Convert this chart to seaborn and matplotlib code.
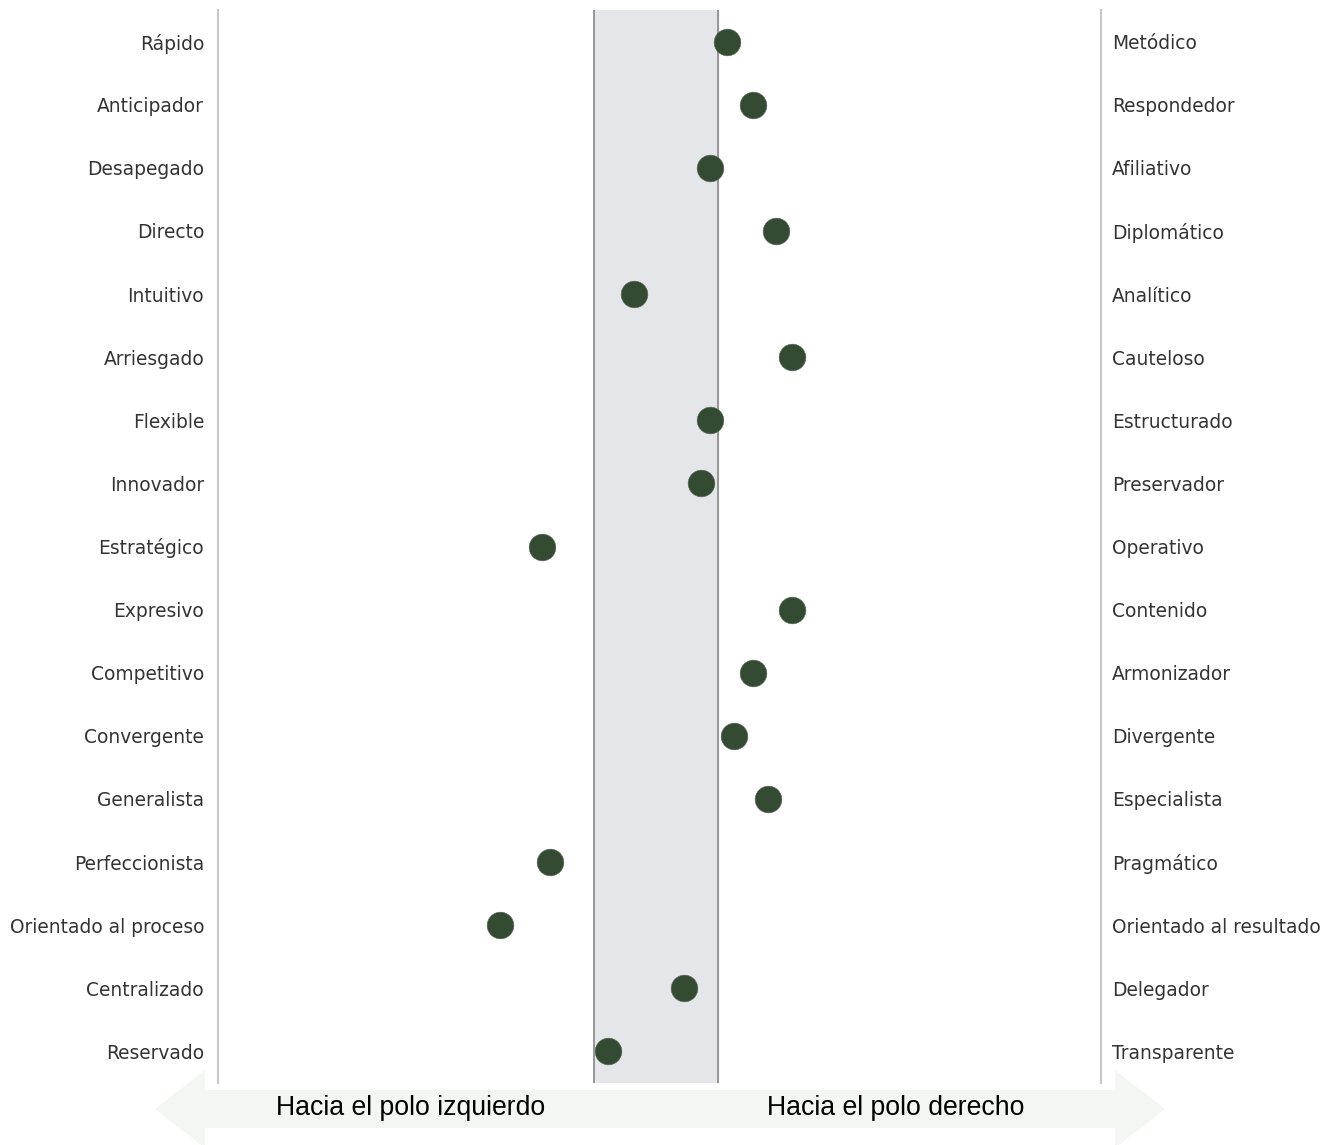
import pandas as pd
import numpy as np
import matplotlib
matplotlib.use("Agg")
import matplotlib.pyplot as plt
import seaborn as sns
from matplotlib.patches import Polygon

sns.set_theme(style="white")
plt.rcParams['font.family'] = ['DejaVu Sans']

# polos izquierdo / derecho y posicion de cada persona (escala 0-100)
polo_izq = ["Rápido", "Anticipador", "Desapegado", "Directo", "Intuitivo", "Arriesgado",
            "Flexible", "Innovador", "Estratégico", "Expresivo", "Competitivo", "Convergente",
            "Generalista", "Perfeccionista", "Orientado al proceso", "Centralizado", "Reservado"]
polo_der = ["Metódico", "Respondedor", "Afiliativo", "Diplomático", "Analítico", "Cauteloso",
            "Estructurado", "Preservador", "Operativo", "Contenido", "Armonizador", "Divergente",
            "Especialista", "Pragmático", "Orientado al resultado", "Delegador", "Transparente"]
puntaje = [57.6, 60.6, 55.7, 63.2, 47.1, 65.0, 55.7, 54.7, 36.7, 65.0,
           60.6, 58.4, 62.3, 37.6, 31.9, 52.8, 44.2]
banda = [42.6, 56.6]   # zona central sombreada
flechas = ["Hacia el polo izquierdo", "Hacia el polo derecho"]

df = pd.DataFrame({"izq": polo_izq, "der": polo_der, "valor": puntaje})
df["fila"] = np.arange(len(df))

W, H = 1337, 1145
fig = plt.figure(figsize=(W / 100, H / 100), dpi=100)
ax = fig.add_axes([218 / W, 1 - 1083 / H, (1101 - 218) / W, (1083 - 10) / H])

ax.axvspan(banda[0], banda[1], color="#e5e6ea", zorder=0)
for b in banda:
    ax.axvline(b, color="#888888", lw=1.2, zorder=1)

sns.scatterplot(data=df, x="valor", y="fila", ax=ax, s=370, color="#344a33",
                edgecolor="#5a6b59", linewidth=0.4, zorder=3, legend=False)

ax.set_xlim(0, 100)
ax.set_ylim(len(df) - 0.5, -0.5)
ax.set_xlabel("")
ax.set_ylabel("")
ax.set_xticks([])
ax.set_yticks(df["fila"])
ax.set_yticklabels(df["izq"], fontsize=13.4, color="#333333")
ax.tick_params(axis="y", length=0, pad=10)
for s in ["top", "bottom"]:
    ax.spines[s].set_visible(False)
for s in ["left", "right"]:
    ax.spines[s].set_color("#c8c8c8")
    ax.spines[s].set_linewidth(1.5)

ax2 = ax.twinx()
ax2.set_ylim(ax.get_ylim())
ax2.set_yticks(df["fila"])
ax2.set_yticklabels(df["der"], fontsize=13.4, color="#333333")
ax2.tick_params(axis="y", length=0, pad=8)
for s in ax2.spines.values():
    s.set_visible(False)
ax2.grid(False)

# flecha doble inferior
pts = [(155, 1109), (205, 1070), (205, 1090), (1115, 1090), (1115, 1070), (1165, 1109),
       (1115, 1148), (1115, 1128), (205, 1128), (205, 1148)]
poly = Polygon([(x / W, 1 - y / H) for x, y in pts], closed=True,
               facecolor="#f4f6f3", edgecolor="none", transform=fig.transFigure, zorder=0)
fig.patches.append(poly)
fig.text(411 / W, 1 - 1108 / H, flechas[0], ha="center", va="center", fontsize=19.2,
         family="Liberation Sans", color="black")
fig.text(896 / W, 1 - 1108 / H, flechas[1], ha="center", va="center", fontsize=19.2,
         family="Liberation Sans", color="black")

fig.savefig("out.png", dpi=100)
